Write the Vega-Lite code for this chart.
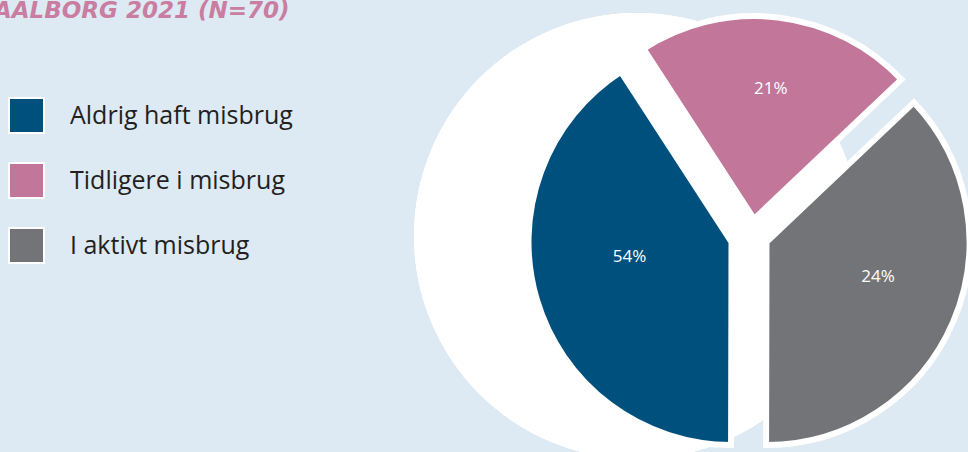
{
  "$schema": "https://vega.github.io/schema/vega-lite/v6.json",
  "width": 400,
  "height": 412,
  "autosize": {"type": "none"},
  "padding": {"left": 549, "top": 36, "right": 19, "bottom": 4},
  "background": "#ddeaf4",
  "config": {"view": {"stroke": null}},
  "title": {
    "text": "AALBORG 2021 (N=70)",
    "anchor": "start",
    "frame": "group",
    "orient": "top",
    "offset": -37,
    "baseline": "alphabetic",
    "dx": -555,
    "font": "DejaVu Sans",
    "fontSize": 23,
    "fontStyle": "italic",
    "fontWeight": "bold",
    "color": "#c97ea1"
  },
  "data": {
    "values": [
      {"kategori": "Aldrig haft misbrug", "procent": 0.54, "andel": 40.8},
      {"kategori": "Tidligere i misbrug", "procent": 0.21, "andel": 22.1},
      {"kategori": "I aktivt misbrug", "procent": 0.24, "andel": 37.1}
    ]
  },
  "layer": [
    {
      "mark": {"type": "arc", "outerRadius": 223, "theta": 0, "theta2": 6.2832, "fill": "white", "xOffset": -112, "yOffset": -6}
    },
    {
      "encoding": {
        "theta": {"field": "andel", "type": "quantitative", "stack": true, "scale": {"range": [-0.576, 5.7072]}},
        "order": {"field": "kategori", "type": "nominal", "sort": "descending"},
        "color": {
          "field": "kategori",
          "type": "nominal",
          "scale": {
            "domain": ["Aldrig haft misbrug", "Tidligere i misbrug", "I aktivt misbrug"],
            "range": ["#00507d", "#c27699", "#737477"]
          },
          "legend": {
            "title": null,
            "orient": "none",
            "legendX": -541,
            "legendY": 61,
            "padding": 0,
            "symbolType": "square",
            "symbolSize": 1225,
            "symbolStrokeColor": "white",
            "symbolStrokeWidth": 2,
            "symbolOpacity": 1,
            "labelFont": "Open Sans",
            "labelFontSize": 25,
            "labelColor": "#231f20",
            "labelOffset": 25,
            "labelLimit": 400,
            "rowPadding": 22
          }
        }
      },
      "layer": [
        {
          "mark": {"type": "arc", "outerRadius": 203, "stroke": "white", "strokeWidth": 6, "xOffset": -17.5},
          "encoding": {"opacity": {"condition": {"test": "datum.kategori === 'Aldrig haft misbrug'", "value": 1}, "value": 0}}
        },
        {
          "mark": {"type": "arc", "outerRadius": 203, "stroke": "white", "strokeWidth": 6, "xOffset": 17.5},
          "encoding": {"opacity": {"condition": {"test": "datum.kategori === 'I aktivt misbrug'", "value": 1}, "value": 0}}
        },
        {
          "mark": {"type": "arc", "outerRadius": 203, "stroke": "white", "strokeWidth": 6, "xOffset": 5, "yOffset": -23},
          "encoding": {"opacity": {"condition": {"test": "datum.kategori === 'Tidligere i misbrug'", "value": 1}, "value": 0}}
        },
        {
          "mark": {"type": "text", "radius": 110, "xOffset": -14, "yOffset": -16, "font": "Open Sans", "fontSize": 17},
          "encoding": {
            "text": {"field": "procent", "type": "quantitative", "format": ".0%"},
            "color": {"value": "white"},
            "opacity": {"condition": {"test": "datum.kategori === 'Aldrig haft misbrug'", "value": 1}, "value": 0}
          }
        },
        {
          "mark": {"type": "text", "radius": 150, "xOffset": 4, "yOffset": -4, "font": "Open Sans", "fontSize": 17},
          "encoding": {
            "text": {"field": "procent", "type": "quantitative", "format": ".0%"},
            "color": {"value": "white"},
            "opacity": {"condition": {"test": "datum.kategori === 'Tidligere i misbrug'", "value": 1}, "value": 0}
          }
        },
        {
          "mark": {"type": "text", "radius": 135, "xOffset": 5, "yOffset": -18, "font": "Open Sans", "fontSize": 17},
          "encoding": {
            "text": {"field": "procent", "type": "quantitative", "format": ".0%"},
            "color": {"value": "white"},
            "opacity": {"condition": {"test": "datum.kategori === 'I aktivt misbrug'", "value": 1}, "value": 0}
          }
        }
      ]
    }
  ]
}
